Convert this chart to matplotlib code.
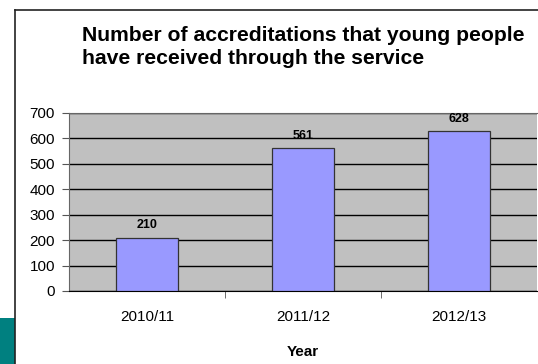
import numpy as np
import matplotlib.pyplot as plt
from matplotlib.patches import Rectangle
from matplotlib.lines import Line2D

plt.rcParams['font.family'] = ['Liberation Sans', 'DejaVu Sans']

years = ['2010/11', '2011/12', '2012/13']
accreditations = [210, 561, 628]

W, H = 538, 364
fig = plt.figure(figsize=(W / 100, H / 100), dpi=100)

def px(x0, y0, x1, y1):
    # pixel box (from top-left) -> figure fraction rect
    return [x0 / W, 1 - y1 / H, (x1 - x0) / W, (y1 - y0) / H]

# slide frame and teal corner block
fig.patches.append(Rectangle((0, 0), 15 / W, (H - 318) / H, transform=fig.transFigure,
                             facecolor='#008080', edgecolor='none'))
fig.lines.append(Line2D([15 / W, 1], [1 - 10 / H] * 2, transform=fig.transFigure,
                        color='#222222', lw=1.2))
fig.lines.append(Line2D([15 / W] * 2, [0, 1 - 10 / H], transform=fig.transFigure,
                        color='#222222', lw=1.2))

ax = fig.add_axes(px(69, 113, 537, 291))
ax.set_facecolor('#C0C0C0')

x = np.arange(len(years))
bars = ax.bar(x, accreditations, width=0.4, color='#9999FF', edgecolor='#333333',
              linewidth=0.9, zorder=3)
for b, v in zip(bars, accreditations):
    ax.text(b.get_x() + b.get_width() / 2, v + 26, str(v), ha='center', va='bottom',
            fontsize=9, fontweight='bold', zorder=4)

ax.set_xlim(-0.5, len(years) - 0.5)
ax.set_ylim(0, 700)
ax.set_yticks(range(0, 701, 100))
ax.yaxis.grid(True, color='black', linewidth=1)
ax.set_axisbelow(True)

ax.set_xticks(x)
ax.set_xticklabels(years, fontsize=11)
ax.set_xticks(np.arange(0.5, len(years) - 0.5), minor=True)
ax.tick_params(axis='x', which='major', length=0, pad=14)
ax.tick_params(axis='x', which='minor', length=5, direction='out', color='#555555')
ax.tick_params(axis='y', labelsize=11, length=5, color='#555555', pad=5)

ax.spines['right'].set_visible(False)
ax.spines['top'].set_color('#666666')
ax.spines['left'].set_color('#666666')
ax.spines['bottom'].set_color('black')

ax.set_xlabel('Year', fontsize=11, fontweight='bold', labelpad=15)

fig.text(82 / W, 1 - 26 / H, 'Number of accreditations that young people\nhave received through the service',
         ha='left', va='top', fontsize=15.2, fontweight='bold', linespacing=1.3)

fig.savefig('out.png', dpi=100)
